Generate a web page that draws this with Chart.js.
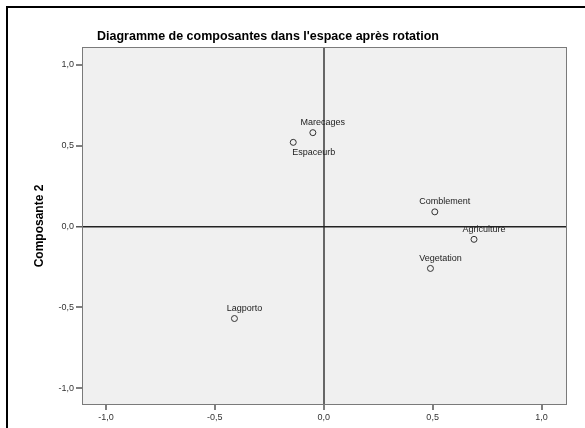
<!DOCTYPE html>
<html>
<head>
<meta charset="utf-8">
<script src="https://cdn.jsdelivr.net/npm/chart.js@4.4.1/dist/chart.umd.min.js"></script>
<style>
  html, body { margin: 0; padding: 0; background: #fff; }
  #wrap { width: 585px; height: 428px; position: relative; }
</style>
</head>
<body>
<div id="wrap"><canvas id="chart"></canvas></div>
<script>
// variables and their rotated loadings (component 1, component 2)
const variables = ["Marecages", "Espaceurb", "Comblement", "Agriculture", "Vegetation", "Lagporto"];
const comp1 = [-0.05, -0.14, 0.51, 0.69, 0.49, -0.41];
const comp2 = [0.58, 0.52, 0.09, -0.08, -0.26, -0.57];
const labelSide = ["above", "below", "above", "above", "above", "above"];
const tickValues = [-1.0, -0.5, 0.0, 0.5, 1.0];

const fmt = v => v.toFixed(1).replace(".", ",");

const frame = {
  id: "frame",
  beforeDraw(chart) {
    const { ctx, chartArea: a } = chart;
    ctx.save();
    ctx.fillStyle = "#f0f0f0";
    ctx.fillRect(a.left, a.top, a.right - a.left, a.bottom - a.top);
    // outer border of the figure
    ctx.strokeStyle = "#000";
    ctx.lineWidth = 2;
    ctx.beginPath();
    ctx.moveTo(7, 430);
    ctx.lineTo(7, 7);
    ctx.lineTo(590, 7);
    ctx.stroke();
    // title
    ctx.fillStyle = "#000";
    ctx.font = "bold 12.5px 'Liberation Sans', Arial, sans-serif";
    ctx.textAlign = "left";
    ctx.textBaseline = "middle";
    ctx.fillText("Diagramme de composantes dans l'espace après rotation", 97, 37);
    ctx.restore();
  },
  afterDatasetsDraw(chart) {
    const { ctx, chartArea: a } = chart;
    ctx.save();
    ctx.strokeStyle = "#7a7a7a";
    ctx.lineWidth = 1;
    ctx.strokeRect(a.left + 0.5, a.top + 0.5, a.right - a.left - 1, a.bottom - a.top - 1);
    // point labels
    const meta = chart.getDatasetMeta(0);
    ctx.fillStyle = "#222";
    ctx.font = "9px 'Liberation Sans', Arial, sans-serif";
    ctx.textBaseline = "middle";
    meta.data.forEach((pt, i) => {
      if (labelSide[i] === "below") {
        ctx.textAlign = "left";
        ctx.fillText(variables[i], pt.x - 1, pt.y + 10);
      } else {
        ctx.textAlign = "center";
        ctx.fillText(variables[i], pt.x + 10, pt.y - 10);
      }
    });
    ctx.restore();
  }
};

new Chart(document.getElementById("chart"), {
  type: "scatter",
  data: {
    datasets: [{
      data: variables.map((v, i) => ({ x: comp1[i], y: comp2[i] })),
      pointStyle: "circle",
      pointRadius: 3,
      pointBorderWidth: 1,
      borderColor: "#333",
      backgroundColor: "rgba(0,0,0,0)",
    }],
  },
  options: {
    responsive: true,
    maintainAspectRatio: false,
    animation: false,
    layout: { padding: { top: 47, right: 18, bottom: 0, left: 0 } },
    plugins: { legend: { display: false }, tooltip: { enabled: false } },
    scales: {
      x: {
        type: "linear",
        min: -1.11,
        max: 1.117,
        afterBuildTicks: s => { s.ticks = tickValues.map(v => ({ value: v })); },
        afterFit: s => { s.height = 23; },
        ticks: {
          callback: v => fmt(v),
          color: "#333",
          font: { size: 9, family: "'Liberation Sans', Arial, sans-serif" },
          padding: 2,
          maxRotation: 0,
        },
        grid: {
          color: c => (c.tick && c.tick.value === 0 ? "#666" : "rgba(0,0,0,0)"),
          lineWidth: c => (c.tick && c.tick.value === 0 ? 2 : 0),
          tickColor: "#555",
          tickWidth: 1.5,
          tickLength: 5,
          drawOnChartArea: true,
        },
        border: { display: false },
      },
      y: {
        type: "linear",
        min: -1.105,
        max: 1.11,
        afterBuildTicks: s => { s.ticks = tickValues.map(v => ({ value: v })); },
        afterFit: s => { s.width = 82; },
        title: {
          display: true,
          text: "Composante 2",
          color: "#000",
          font: { size: 12, weight: "bold", family: "'Liberation Sans', Arial, sans-serif" },
          padding: { top: 32, bottom: 0 },
        },
        ticks: {
          callback: v => fmt(v),
          color: "#333",
          font: { size: 9, family: "'Liberation Sans', Arial, sans-serif" },
          padding: 2,
        },
        grid: {
          color: c => (c.tick && c.tick.value === 0 ? "#222" : "rgba(0,0,0,0)"),
          lineWidth: c => (c.tick && c.tick.value === 0 ? 1.5 : 0),
          tickColor: "#555",
          tickWidth: 1.5,
          tickLength: 6,
        },
        border: { display: false },
      },
    },
  },
  plugins: [frame],
});
</script>
</body>
</html>
